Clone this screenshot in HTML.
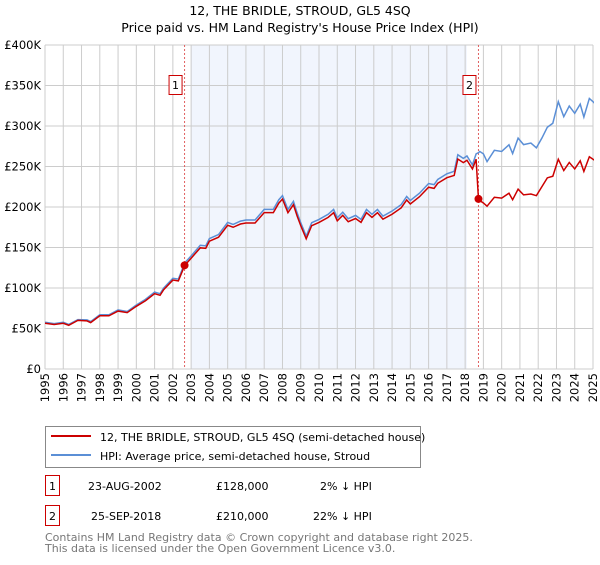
<!DOCTYPE html>
<html><head><meta charset="utf-8"><style>
body{margin:0;background:#fff;font-family:"Liberation Sans","DejaVu Sans",sans-serif;}
svg text{font-family:"DejaVu Sans","Liberation Sans",sans-serif;}
</style></head><body>
<svg id="chart" width="600" height="560" viewBox="0 0 600 560" xmlns="http://www.w3.org/2000/svg">
<defs><clipPath id="pc"><rect x="45" y="40" width="549" height="330"/></clipPath></defs>
<text x="300" y="15" font-size="12.5" text-anchor="middle" fill="#000">12, THE BRIDLE, STROUD, GL5 4SQ</text>
<text x="300" y="32" font-size="12.5" text-anchor="middle" fill="#000">Price paid vs. HM Land Registry's House Price Index (HPI)</text>
<g id="plot"></g>
<g>
<rect x="45.5" y="426.5" width="375" height="41" fill="#fff" stroke="#888"/>
<line x1="51" y1="436" x2="91" y2="436" stroke="#cc0000" stroke-width="2"/>
<text x="100" y="441" font-size="11">12, THE BRIDLE, STROUD, GL5 4SQ (semi-detached house)</text>
<line x1="51" y1="455" x2="91" y2="455" stroke="#5b8fd6" stroke-width="2"/>
<text x="100" y="460" font-size="11">HPI: Average price, semi-detached house, Stroud</text>
</g>
<g font-size="11">
<rect x="45.5" y="475.5" width="14" height="20" fill="none" stroke="#cc0000"/>
<text x="52.5" y="490" text-anchor="middle">1</text>
<text x="88" y="490">23-AUG-2002</text><text x="216" y="490">£128,000</text><text x="320" y="490">2% ↓ HPI</text>
<rect x="45.5" y="505.5" width="14" height="20" fill="none" stroke="#cc0000"/>
<text x="52.5" y="520" text-anchor="middle">2</text>
<text x="91" y="520">25-SEP-2018</text><text x="216" y="520">£210,000</text><text x="313" y="520">22% ↓ HPI</text>
</g>
<text x="45" y="541" font-size="11" fill="#777">Contains HM Land Registry data © Crown copyright and database right 2025.</text>
<text x="45" y="552" font-size="11" fill="#777">This data is licensed under the Open Government Licence v3.0.</text>
</svg>
<script>
const times=[1995.0,1995.5,1996.0,1996.3,1996.8,1997.3,1997.5,1998.0,1998.5,1999.0,1999.5,2000.0,2000.5,2001.0,2001.3,2001.5,2002.0,2002.3,2002.65,2003.0,2003.5,2003.8,2004.0,2004.5,2005.0,2005.3,2005.7,2006.0,2006.5,2007.0,2007.5,2007.8,2008.0,2008.3,2008.6,2008.8,2009.0,2009.3,2009.6,2010.0,2010.5,2010.8,2011.0,2011.3,2011.6,2012.0,2012.3,2012.6,2012.9,2013.2,2013.5,2014.0,2014.5,2014.8,2015.0,2015.5,2016.0,2016.3,2016.5,2017.0,2017.4,2017.6,2017.9,2018.1,2018.4,2018.6,2018.73,2018.8,2019.0,2019.2,2019.6,2020.0,2020.4,2020.6,2020.9,2021.2,2021.6,2021.9,2022.2,2022.5,2022.8,2023.1,2023.4,2023.7,2024.0,2024.3,2024.5,2024.8,2025.0,2025.2];
const hpiValues=[57.7,56,57.7,55,61,60.6,58.5,67,67,73,71,79,86,95,93,100,112,111,131,139.6,152.7,152,161,166,181,178.5,182.6,184,184,197,197,209,214,197,207,193,180.6,164,180.6,184.7,191,197,186.7,193.6,185.5,189.6,184.7,197,191,197,188.7,195,203,213,208,217,229,227.6,234,241,244,264.5,260,263,252,265.6,267,268.6,265.6,256,270,268.6,276.8,266,285,277,279,273,285,298.5,303.4,330,311.5,324.6,315.7,327,311,334,330,326];
const paidValues=[56.5,55,56.5,54,60,59.4,57.3,65.7,65.7,71.5,69.6,77.4,84.3,93,91,98,109.8,108.8,128,136.8,149.6,149,157.8,162.7,177.4,175,179,180.3,180.3,193,193,204.8,209.7,193,202.9,189.1,177,160.7,177,181,187.2,193,183,189.7,181.8,185.8,181,193,187.2,193,185,191,199,208.7,203.8,212.7,224.4,223,229.3,236.2,239,259.2,254.8,257.7,247,259,210,208,205,201,212,211,217,209,222,215,216,214,225,236,238,259,245,255,247,257,244,262,259,256];
const yTicks=[0,50,100,150,200,250,300,350,400];
const yTickLabels=["£0","£50K","£100K","£150K","£200K","£250K","£300K","£350K","£400K"];
const xYears=[1995,1996,1997,1998,1999,2000,2001,2002,2003,2004,2005,2006,2007,2008,2009,2010,2011,2012,2013,2014,2015,2016,2017,2018,2019,2020,2021,2022,2023,2024,2025];
const sales=[{label:"1",t:2002.64,v:128},{label:"2",t:2018.73,v:210}];
const shadeRange=[2003.0,2018.1];

const NS="http://www.w3.org/2000/svg";
const X0=45,X1=593,Y0=369,Y1=45;
const xs=t=>X0+(t-1995)/(2025-1995)*(X1-X0);
const ys=v=>Y0-v/400*(Y0-Y1);
const g=document.getElementById('plot');
function mk(tag,attrs,parent){const e=document.createElementNS(NS,tag);for(const k in attrs)e.setAttribute(k,attrs[k]);(parent||g).appendChild(e);return e;}

const bg=mk('rect',{x:X0,y:Y1,width:X1-X0,height:Y0-Y1,fill:'#fff'});


const sh=mk('rect',{x:xs(shadeRange[0]),y:Y1,width:xs(shadeRange[1])-xs(shadeRange[0]),height:Y0-Y1,fill:'#eef3fc',opacity:0.8});



yTicks.forEach((v,i)=>{
  const l=mk('line',{x1:X0,x2:X1,y1:ys(v),y2:ys(v),stroke:'#ccc','stroke-width':1});
  
  
  const t=mk('text',{x:X0-4,y:ys(v)+4,'font-size':11.5,'text-anchor':'end',fill:'#000'});
  
  
  t.textContent=yTickLabels[i];
});
xYears.forEach(yr=>{
  const l=mk('line',{x1:xs(yr),x2:xs(yr),y1:Y1,y2:Y0,stroke:'#ccc','stroke-width':1});
  
  
  const x=xs(yr)+4,y=Y0+4;
  const t=mk('text',{x:x,y:y,'font-size':11.5,'text-anchor':'end',transform:`rotate(-90 ${x} ${y})`});
  
  
  t.textContent=yr;
});

sales.forEach(s=>{
  const l=mk('line',{x1:xs(s.t),x2:xs(s.t),y1:Y1,y2:Y0,stroke:'#e06060','stroke-width':1,'stroke-dasharray':'2,2'});
  
  
  const r=mk('rect',{x:xs(s.t)-15.5,y:75.5,width:13,height:19,fill:'#fff',stroke:'#cc0000'});
  
  
  const t=mk('text',{x:xs(s.t)-9,y:89,'font-size':11,'text-anchor':'middle'});
  
  
  t.textContent=s.label;
});

const hp=mk('polyline',{points:times.map((t,i)=>xs(t)+','+ys(hpiValues[i])).join(' '),fill:'none',stroke:'#5b8fd6','stroke-width':1.5,'clip-path':'url(#pc)'});


const pp=mk('polyline',{points:times.map((t,i)=>xs(t)+','+ys(paidValues[i])).join(' '),fill:'none',stroke:'#cc0000','stroke-width':1.5,'clip-path':'url(#pc)'});


sales.forEach(s=>{
  const c=mk('circle',{cx:xs(s.t),cy:ys(s.v),r:4,fill:'#cc0000'});
  
  
});
const ax=mk('line',{x1:X0,x2:X1,y1:Y0,y2:Y0,stroke:'#ccc'});


</script>
</body></html>
